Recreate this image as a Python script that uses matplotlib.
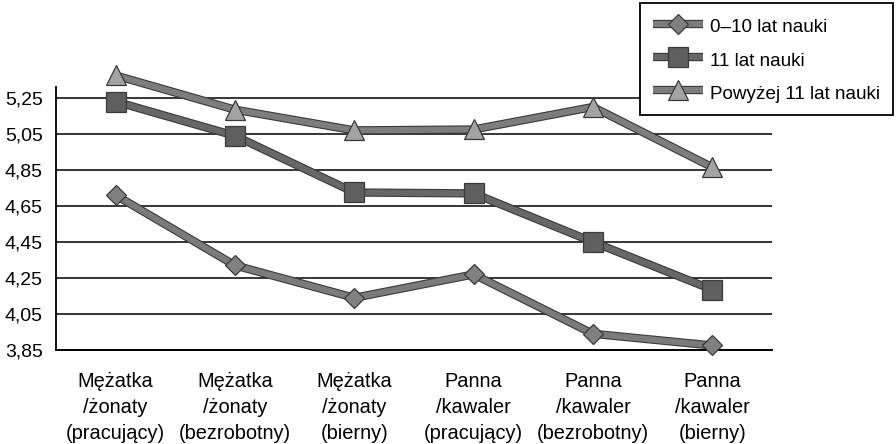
import matplotlib

matplotlib.use("Agg")
import matplotlib.pyplot as plt
import matplotlib.patheffects as pe
from matplotlib.legend_handler import HandlerTuple
from matplotlib.lines import Line2D

plt.rcParams["font.family"] = ["Liberation Sans", "DejaVu Sans"]

# Dane wykresu
kategorie = [
    "Mężatka\n/żonaty\n(pracujący)",
    "Mężatka\n/żonaty\n(bezrobotny)",
    "Mężatka\n/żonaty\n(bierny)",
    "Panna\n/kawaler\n(pracujący)",
    "Panna\n/kawaler\n(bezrobotny)",
    "Panna\n/kawaler\n(bierny)",
]
nauka_0_10 = [4.71, 4.32, 4.14, 4.27, 3.94, 3.875]
nauka_11 = [5.23, 5.04, 4.725, 4.72, 4.45, 4.185]
nauka_powyzej_11 = [5.375, 5.185, 5.07, 5.075, 5.20, 4.865]
serie_nazwy = ["0–10 lat nauki", "11 lat nauki", "Powyżej 11 lat nauki"]
y_ticki = [3.85, 4.05, 4.25, 4.45, 4.65, 4.85, 5.05, 5.25]
y_etykiety = ["3,85", "4,05", "4,25", "4,45", "4,65", "4,85", "5,05", "5,25"]

# Styl serii: kolor linii, marker, rozmiar, wypełnienie markera
style = [
    ("#7b7b7b", "D", 10.5, "#808080"),
    ("#676767", "s", 14.0, "#5f5f5f"),
    ("#7d7d7d", "^", 14.0, "#a3a3a3"),
]
obrys = "#3a3a3a"
lw_linii, lw_obrysu = 4.4, 6.0

fig = plt.figure(figsize=(8.96, 4.44), dpi=100)
ax = fig.add_axes([56 / 896, 94 / 444, 716 / 896, 263 / 444])

x = list(range(len(kategorie)))
uchwyty = []
for i, (wartosci, (kolor, marker, ms, fill)) in enumerate(
    zip([nauka_0_10, nauka_11, nauka_powyzej_11], style)
):
    ax.plot(
        x,
        wartosci,
        color=kolor,
        lw=lw_linii,
        solid_joinstyle="miter",
        solid_capstyle="butt",
        path_effects=[pe.Stroke(linewidth=lw_obrysu, foreground=obrys), pe.Normal()],
        clip_on=False,
        zorder=3 + 2 * i,
    )
    znaczniki = dict(marker=marker, ms=ms, mfc=fill, mec=obrys, mew=0.9)
    ax.plot(x, wartosci, linestyle="none", clip_on=False, zorder=4 + 2 * i, **znaczniki)

    # uchwyt legendy: obrys, linia i znacznik nałożone na siebie
    uchwyty.append(
        (
            Line2D([], [], color=obrys, lw=lw_obrysu, solid_capstyle="butt"),
            Line2D([], [], color=kolor, lw=lw_linii, solid_capstyle="butt"),
            Line2D([], [], linestyle="none", **znaczniki),
        )
    )

ax.set_xlim(-0.5, len(kategorie) - 0.5)
ax.set_ylim(3.85, 5.311)
ax.set_yticks(y_ticki)
ax.set_yticklabels(y_etykiety)
ax.set_xticks(x)
ax.set_xticklabels(kategorie, linespacing=1.45)
ax.yaxis.grid(True, color="black", lw=1.1)
ax.set_axisbelow(True)

for bok in ("top", "right"):
    ax.spines[bok].set_visible(False)
ax.spines["left"].set_linewidth(1.3)
ax.spines["bottom"].set_linewidth(1.4)

ax.tick_params(axis="y", length=0, pad=9.5, labelsize=14)
ax.tick_params(axis="x", length=0, pad=16, labelsize=14.4)

leg = fig.legend(
    uchwyty,
    serie_nazwy,
    handler_map={tuple: HandlerTuple(ndivide=1, pad=0)},
    loc="upper right",
    bbox_to_anchor=(893 / 896, 441 / 444),
    borderaxespad=0,
    numpoints=1,
    fontsize=13.6,
    handlelength=2.65,
    handleheight=1.3,
    handletextpad=0.36,
    labelspacing=0.66,
    borderpad=0.68,
    fancybox=False,
    framealpha=1,
    edgecolor="black",
)
leg.get_frame().set_linewidth(1.3)

fig.savefig("out.png", dpi=100)
